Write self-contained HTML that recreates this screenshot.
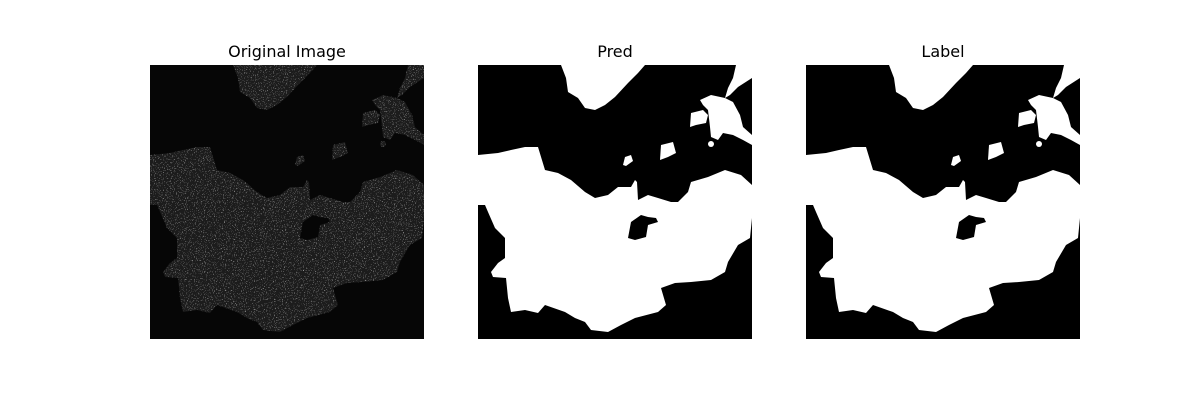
<!DOCTYPE html>
<html><head><meta charset="utf-8"><style>
html,body{margin:0;padding:0;background:#fff;}
svg{display:block;}
text{font-family:"DejaVu Sans","Liberation Sans",sans-serif;font-size:16px;fill:#000;}
</style></head><body>
<svg width="1200" height="400" viewBox="0 0 1200 400">
<defs>
<g id="seg">
<path d="M0,90 L20,88 33,85 47,82 60,82 67,105 80,108 93,115 107,127 117,133 130,130 140,122 153,122 157,115 159,117 160,135 170,130 180,133 193,137 200,137 210,127 213,117 230,112 247,105 263,110 274,120 274,153 272,173 260,180 250,197 247,207 233,215 213,217 197,218 183,223 188,240 180,247 157,253 143,260 130,267 113,265 107,257 97,253 87,247 67,240 60,248 47,245 33,247 30,233 28,213 15,212 13,207 20,198 27,193 27,173 17,163 10,147 7,140 0,140 Z M150,173 L153,157 163,150 170,152 178,153 180,157 170,160 168,172 157,175 Z" fill-rule="evenodd"/>
<path d="M83,0 L88,13 90,27 100,33 107,43 117,45 127,40 137,32 150,18 160,8 167,0 Z"/>
<path d="M258,0 L274,0 274,13 260,22 252,30 247,33 250,23 255,13 Z"/>
<path d="M222,35 L233,30 247,33 255,37 262,50 265,62 274,70 274,80 265,75 255,70 245,68 240,75 233,72 232,62 230,45 225,40 Z"/>
<path d="M213,48 L225,45 230,50 228,58 218,60 212,62 Z"/>
<path d="M183,80 L195,77 198,88 190,92 182,95 Z"/>
<path d="M147,92 L153,90 155,96 148,101 145,100 Z"/>
<circle cx="233" cy="79" r="3"/>
</g>
<filter id="noise" x="0" y="0" width="100%" height="100%">
<feTurbulence type="fractalNoise" baseFrequency="0.9" numOctaves="2" seed="3" result="t"/>
<feColorMatrix in="t" type="matrix" values="0 0 0 0 0.45  0 0 0 0 0.45  0 0 0 0 0.45  4 0 0 0 -2.5" result="n"/>
<feComposite in="n" in2="SourceAlpha" operator="in" result="m"/>
<feMerge><feMergeNode in="SourceGraphic"/><feMergeNode in="m"/></feMerge>
</filter>
</defs>

<text x="287" y="57" text-anchor="middle">Original Image</text>
<text x="615" y="57" text-anchor="middle">Pred</text>
<text x="943" y="57" text-anchor="middle">Label</text>

<g transform="translate(150,65)">
<rect width="274" height="274" fill="#060606"/>
<g fill="#1a1a1a" filter="url(#noise)"><use href="#seg"/></g>
</g>

<g transform="translate(478,65)">
<rect width="274" height="274" fill="#000"/>
<g fill="#fff"><use href="#seg"/></g>
</g>

<g transform="translate(806,65)">
<rect width="274" height="274" fill="#000"/>
<g fill="#fff"><use href="#seg"/></g>
</g>
</svg>
</body></html>
